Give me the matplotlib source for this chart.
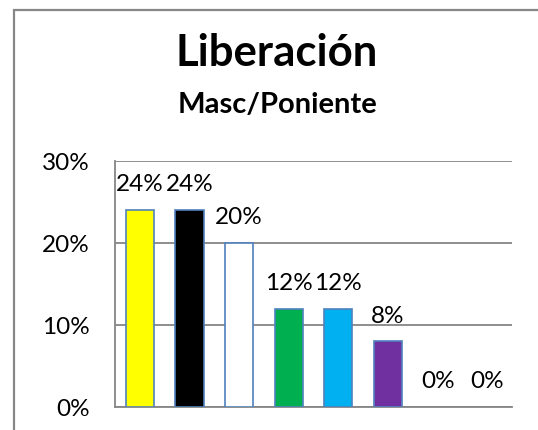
import matplotlib.pyplot as plt
from matplotlib.patches import Rectangle

# datos del gráfico
categorias = ["C1", "C2", "C3", "C4", "C5", "C6", "C7", "C8"]
valores = [0.24, 0.24, 0.20, 0.12, 0.12, 0.08, 0.0, 0.0]
colores = ["#FFFF00", "#000000", "#FFFFFF", "#00B050", "#00B0F0", "#7030A0", "#FFFFFF", "#FFFFFF"]
ticks_y = [0.0, 0.10, 0.20, 0.30]
etiquetas_y = ["0%", "10%", "20%", "30%"]

plt.rcParams['font.family'] = ['Lato', 'DejaVu Sans']

W, H = 538, 430
fig = plt.figure(figsize=(W / 100, H / 100), dpi=100)

# marco del gráfico (solo se ven arriba e izquierda)
fig.patches.append(Rectangle((14 / W, -0.1), 2.0, (H - 10) / H + 0.1, transform=fig.transFigure,
                             fill=False, edgecolor="#878787", linewidth=1.6))

ax = fig.add_axes([115 / W, (H - 407) / H, (512 - 115) / W, (407 - 161) / H])
x = range(len(categorias))
bordes = [1.2 if v > 0 else 0 for v in valores]
ax.bar(x, valores, width=0.57, color=colores, edgecolor="#4F81BD", linewidth=bordes, zorder=3)

for i, v in zip(x, valores):
    ax.annotate(f"{v:.0%}", (i, v), xytext=(0, 13.5), textcoords="offset points",
                ha="center", va="baseline", fontsize=17.5, color="black")

ax.set_xlim(-0.5, len(categorias) - 0.5)
ax.set_ylim(0, 0.30)
ax.set_yticks(ticks_y)
ax.set_yticklabels(etiquetas_y, fontsize=17.5)
ax.tick_params(axis="y", length=0, pad=18)
ax.set_xticks([])
ax.yaxis.grid(True, color="#868686", linewidth=1.3, zorder=0)
for s in ["top", "right"]:
    ax.spines[s].set_visible(False)
for s in ["left", "bottom"]:
    ax.spines[s].set_color("#868686")
    ax.spines[s].set_linewidth(1.3)

fig.text(277 / W, 1 - 66 / H, "Liberación", ha="center", va="baseline", fontsize=31.5, fontweight="bold")
fig.text(277 / W, 1 - 113 / H, "Masc/Poniente", ha="center", va="baseline", fontsize=21, fontweight="bold")

fig.savefig("out.png", dpi=100)
